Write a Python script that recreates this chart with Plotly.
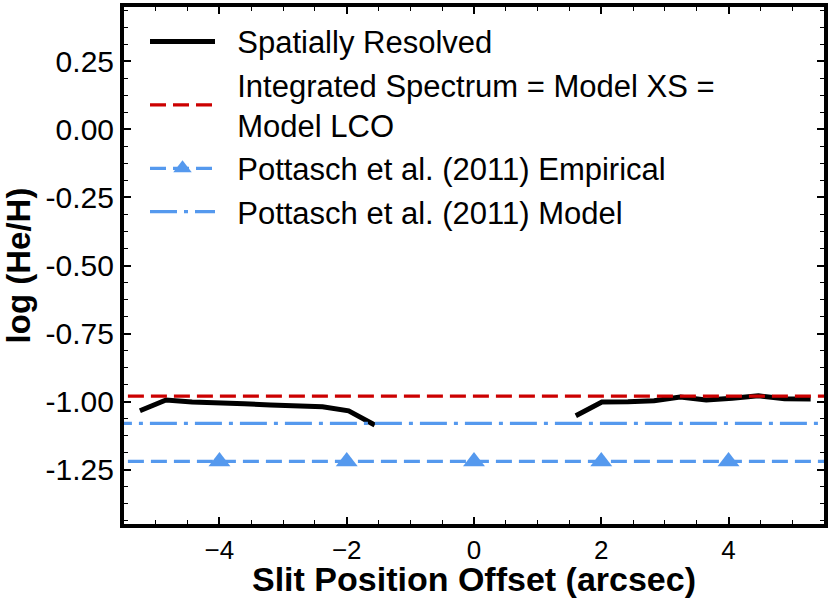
import plotly.graph_objects as go

# spatially resolved He/H, two slit segments either side of the centre
left_offset = [-5.25, -4.84, -4.43, -4.02, -3.61, -3.20, -2.79, -2.38, -1.97, -1.56]
left_logHe = [-1.034, -0.994, -1.002, -1.003, -1.008, -1.013, -1.017, -1.019, -1.034, -1.086]
right_offset = [1.60, 2.01, 2.42, 2.83, 3.24, 3.65, 4.06, 4.47, 4.88, 5.29]
right_logHe = [-1.052, -1.002, -1.001, -0.997, -0.983, -0.994, -0.988, -0.979, -0.990, -0.991]

# reference values drawn across the whole slit (ends sit just past the axis range)
span_x = [-5.8, 5.8]
integrated_logHe = -0.98
pottasch_model_logHe = -1.08
pottasch_emp_logHe = -1.22
pottasch_emp_marker_x = [-4, -2, 0, 2, 4]

y_tickvals = [0.25, 0.0, -0.25, -0.5, -0.75, -1.0, -1.25]
y_ticktext = ["0.25", "0.00", "-0.25", "-0.50", "-0.75", "-1.00", "-1.25"]
x_tickvals = [-4, -2, 0, 2, 4]

RED = "#CC0000"
BLUE = "#5599EE"
FONT = "Liberation Sans, Arial, sans-serif"
PAD = "\u00a0\u00a0"

# empirical line carries its triangles; the two end points are clipped off
emp_x = [span_x[0]] + pottasch_emp_marker_x + [span_x[1]]

fig = go.Figure()

fig.add_trace(go.Scatter(
    x=left_offset, y=left_logHe, mode="lines",
    line=dict(color="black", width=5),
    name=PAD + "Spatially Resolved", legendgroup="sr", hoverinfo="none"
))
fig.add_trace(go.Scatter(
    x=right_offset, y=right_logHe, mode="lines",
    line=dict(color="black", width=5),
    name="Spatially Resolved", legendgroup="sr", showlegend=False, hoverinfo="none"
))
fig.add_trace(go.Scatter(
    x=span_x, y=[integrated_logHe] * len(span_x), mode="lines",
    line=dict(color=RED, width=3.4, dash="16px,7px"),
    name=PAD + "Integrated Spectrum = Model XS =<br>" + PAD + "Model LCO", hoverinfo="none"
))
fig.add_trace(go.Scatter(
    x=emp_x, y=[pottasch_emp_logHe] * len(emp_x), mode="lines+markers",
    line=dict(color=BLUE, width=3.2, dash="16px,7px"),
    marker=dict(symbol="triangle-up", size=19, color=BLUE),
    name=PAD + "Pottasch et al. (2011) Empirical", hoverinfo="none"
))
fig.add_trace(go.Scatter(
    x=span_x, y=[pottasch_model_logHe] * len(span_x), mode="lines",
    line=dict(color=BLUE, width=3.2, dash="27px,7px,4px,7px"),
    name=PAD + "Pottasch et al. (2011) Model", hoverinfo="none"
))

axis_common = dict(
    showline=True, linecolor="black", linewidth=4, mirror="allticks",
    ticks="inside", ticklen=7, tickwidth=1.5, tickcolor="black",
    showgrid=False, zeroline=False,
)

fig.update_layout(
    width=831, height=606,
    margin=dict(l=124, r=3, t=3, b=82),
    plot_bgcolor="white", paper_bgcolor="white",
    font=dict(family=FONT, color="black"),
    showlegend=True,
    legend=dict(
        x=0.03, y=0.985, xanchor="left", yanchor="top",
        bgcolor="rgba(0,0,0,0)", font=dict(family=FONT, size=31, color="black"),
        itemwidth=65, tracegroupgap=0,
    ),
    xaxis=dict(
        **axis_common,
        range=[-5.5, 5.5], tickvals=x_tickvals,
        tickfont=dict(family=FONT, size=26, color="black"),
        minor=dict(ticks="inside", ticklen=4, tickwidth=1.2, dtick=0.5, tickcolor="black"),
    ),
    yaxis=dict(
        **axis_common,
        range=[-1.45, 0.45], tickvals=y_tickvals, ticktext=y_ticktext,
        tickfont=dict(family=FONT, size=30, color="black"),
        minor=dict(ticks="inside", ticklen=4, tickwidth=1.2, dtick=0.0625, tickcolor="black"),
        title=dict(text="<b>log (He/H)</b>",
                   font=dict(family=FONT, size=33, color="black"), standoff=8),
    ),
)

# x title placed a little tighter than plotly's axis title allows
fig.add_annotation(
    text="<b>Slit Position Offset (arcsec)</b>",
    xref="paper", yref="paper", x=0.5, y=-0.107,
    xanchor="center", yanchor="middle", showarrow=False,
    font=dict(family=FONT, size=34, color="black"),
)

fig.write_html("out.html", config={"displayModeBar": False},
               post_script="document.body.style.margin='0';")
